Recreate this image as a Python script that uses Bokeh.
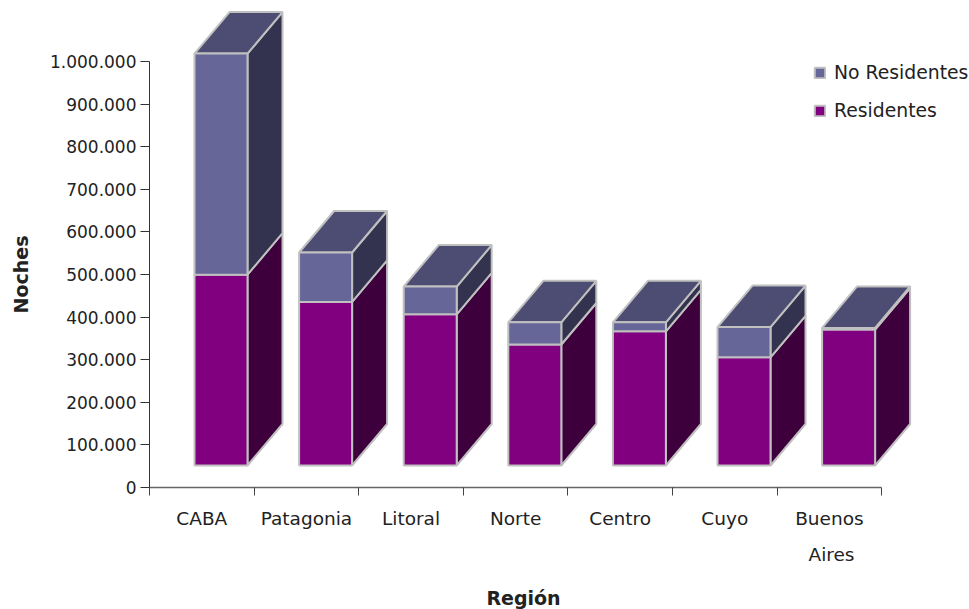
from math import pi
from bokeh.embed import file_html
from bokeh.models import FixedTicker, Label, Legend, LegendItem, Range1d
from bokeh.plotting import figure
from bokeh.resources import INLINE

categories = ["CABA", "Patagonia", "Litoral", "Norte", "Centro", "Cuyo", "Buenos Aires"]
residentes = [448000, 384000, 355000, 284000, 315000, 254000, 319000]
no_residentes = [519000, 116000, 65000, 52000, 21000, 71000, 4000]
y_ticks = [0, 100000, 200000, 300000, 400000, 500000, 600000, 700000, 800000, 900000, 1000000]
y_labels = ["0", "100.000", "200.000", "300.000", "400.000", "500.000", "600.000", "700.000", "800.000", "900.000", "1.000.000"]

FONT = "DejaVu Sans"
TEXT = "#222222"
OUT = "#c0c0c0"
W, H = 969, 609
LEFT, FLOOR = 149, 487  # picture position of the axes' origin
PX_X = 104.6            # pixels per category
PX_Y = 0.000426         # pixels per unit of value
base = 22 / PX_Y        # front plane sits above the axis floor
dx, dy = 35 / PX_X, 41.5 / PX_Y
x0, x1 = 45 / PX_X, 98 / PX_X

# The frame fills the canvas and the axes sit inside it at a fixed location,
# so that every text can be placed freely.
p = figure(width=W, height=H, output_backend="svg", toolbar_location=None,
           x_range=Range1d(-LEFT / PX_X, (W - LEFT) / PX_X),
           y_range=Range1d((FLOOR - H) / PX_Y, FLOOR / PX_Y),
           min_border_left=0, min_border_right=0, min_border_top=0, min_border_bottom=0)
p.grid.visible = False
p.outline_line_color = None
p.background_fill_color = "white"
p.border_fill_color = "white"

stack = [("Residentes", residentes, [0] * 7, "#800080", "#3d003d"),
         ("No Residentes", no_residentes, residentes, "#666699", "#333350")]
front = {}
for i in range(len(categories)):
    xl, xr = i + x0, i + x1
    total = residentes[i] + no_residentes[i]
    for name, vals, bottoms, color, side in stack:
        b = base + bottoms[i]
        t = b + vals[i]
        p.patch([xr, xr + dx, xr + dx, xr], [b, b + dy, t + dy, t],
                fill_color=side, line_color=OUT, line_width=2)
    t = base + total
    p.patch([xl, xl + dx, xr + dx, xr], [t, t + dy, t + dy, t],
            fill_color="#4d4d73", line_color=OUT, line_width=2)
    for name, vals, bottoms, color, side in stack:
        r = p.vbar(x=[(xl + xr) / 2], width=xr - xl, bottom=[base + bottoms[i]],
                   top=[base + bottoms[i] + vals[i]],
                   fill_color=color, line_color=OUT, line_width=2)
        front.setdefault(name, r)

yax = p.yaxis[0]
yax.fixed_location = 0
yax.ticker = FixedTicker(ticks=y_ticks)
yax.major_label_overrides = dict(zip(y_ticks, y_labels))
yax.bounds = (0, 1000000)
yax.minor_tick_line_color = None
yax.major_tick_out = 9
yax.major_tick_in = 0
yax.major_label_standoff = 4
yax.axis_line_color = "#333333"
yax.major_tick_line_color = "#333333"
yax.major_label_text_font = FONT
yax.major_label_text_font_size = "17px"
yax.major_label_text_color = TEXT

mids = [i + 0.5 for i in range(len(categories))]
xax = p.xaxis[0]
xax.fixed_location = 0
xax.ticker = FixedTicker(ticks=mids, minor_ticks=list(range(len(categories) + 1)))
xax.major_label_overrides = {m: c.split()[0] for m, c in zip(mids, categories)}
xax.bounds = (0, len(categories))
xax.major_tick_out = 0
xax.major_tick_in = 0
xax.minor_tick_out = 8
xax.minor_tick_in = 0
xax.minor_tick_line_color = "#444444"
xax.axis_line_color = "#666666"
xax.axis_line_width = 1.5
xax.major_label_standoff = 12
xax.major_label_text_font = FONT
xax.major_label_text_font_size = "18.5px"
xax.major_label_text_color = TEXT

legend = Legend(items=[LegendItem(label="No Residentes", renderers=[front["No Residentes"]]),
                       LegendItem(label="Residentes", renderers=[front["Residentes"]])],
                location=(813, 488), orientation="vertical",
                border_line_color=None, background_fill_alpha=0,
                padding=0, margin=0, spacing=17, glyph_width=13, glyph_height=13,
                label_standoff=8, label_text_font=FONT, label_text_font_size="18.8px",
                label_text_color=TEXT)
p.add_layout(legend, "center")

def at_x(px):
    return (px - LEFT) / PX_X

def at_y(py):
    return (FLOOR - py) / PX_Y

common = dict(x_units="data", y_units="data", text_font=FONT, text_color=TEXT, text_baseline="middle", text_align="center")
p.add_layout(Label(x=at_x(831), y=at_y(554), text=categories[-1].split()[1], text_font_size="18.5px", **common))
bold = dict(common, text_font_style="bold")
p.add_layout(Label(x=at_x(523), y=at_y(597), text="Región", text_font_size="19px", **bold))
p.add_layout(Label(x=at_x(20), y=at_y(274), text="Noches", angle=pi / 2, text_font_size="19px", **bold))

open("out.html", "w").write(file_html(p, INLINE))
